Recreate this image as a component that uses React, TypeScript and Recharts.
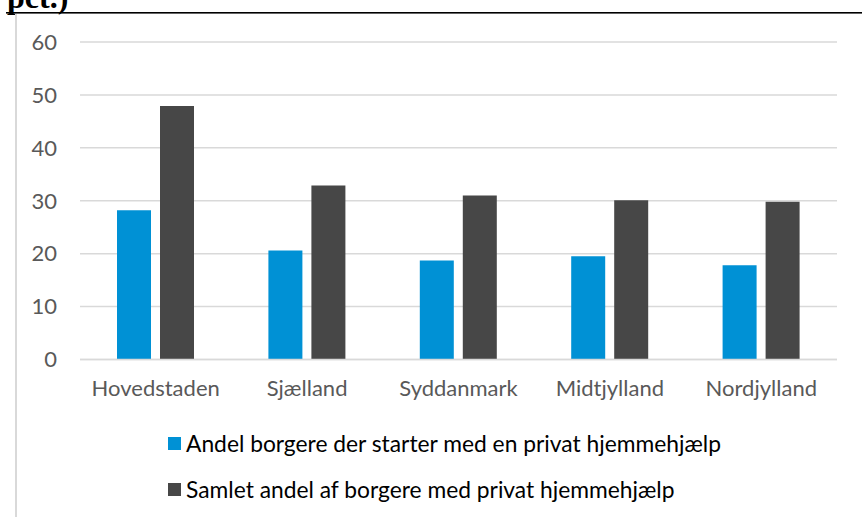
import { Bar, BarChart, CartesianGrid, XAxis, YAxis } from 'recharts';

const regions = ['Hovedstaden', 'Sjælland', 'Syddanmark', 'Midtjylland', 'Nordjylland'];
const startPrivate = [28.2, 20.6, 18.7, 19.5, 17.8];
const totalPrivate = [47.9, 32.9, 31.0, 30.1, 29.8];
const yTicks = [0, 10, 20, 30, 40, 50, 60];

const seriesNames = [
  'Andel borgere der starter med en privat hjemmehjælp',
  'Samlet andel af borgere med privat hjemmehjælp',
];
const seriesColors = ['#0091d5', '#474747'];

const data = regions.map((name, i) => ({
  name,
  start: startPrivate[i],
  total: totalPrivate[i],
}));

const tickStyle = { fill: '#595959', fontSize: 22, fontFamily: 'Lato, sans-serif' };

export default function App() {
  return (
    <div style={{ position: 'absolute', left: 0, top: 0, width: 862, height: 517, background: '#fff', overflow: 'hidden' }}>
      {/* heading cut off at the top of the crop */}
      <svg width={862} height={20} style={{ position: 'absolute', left: 0, top: 0 }}>
        <text x={7} y={8} fontFamily="'Liberation Serif', serif" fontWeight="bold" fontSize={32} fill="#000">
          pct.)
        </text>
        <rect x={6} y={12} width={856} height={1.6} fill="#000" />
      </svg>
      <div style={{ position: 'absolute', left: 15, top: 14, width: 2, height: 503, background: '#d9d9d9' }} />

      <div style={{ position: 'absolute', left: 0, top: 0 }}>
        <BarChart
          width={862}
          height={517}
          data={data}
          margin={{ top: 42, right: 25, left: 10, bottom: 127.5 }}
          barCategoryGap={37}
          barGap={9}
        >
          <CartesianGrid vertical={false} stroke="#d9d9d9" strokeWidth={1.5} />
          <XAxis
            dataKey="name"
            tick={tickStyle}
            axisLine={{ stroke: '#d9d9d9', strokeWidth: 1.5 }}
            tickLine={false}
            tickMargin={15}
            height={30}
            interval={0}
          />
          <YAxis
            domain={[0, 60]}
            ticks={yTicks}
            tick={tickStyle}
            axisLine={false}
            tickLine={false}
            tickMargin={17}
            width={70}
          />
          <Bar dataKey="start" name={seriesNames[0]} fill={seriesColors[0]} isAnimationActive={false} />
          <Bar dataKey="total" name={seriesNames[1]} fill={seriesColors[1]} isAnimationActive={false} />
        </BarChart>
      </div>

      <div style={{ position: 'absolute', left: 168, top: 420, fontFamily: 'Lato, sans-serif', fontSize: 22.8, color: '#000' }}>
        {seriesNames.map((s, i) => (
          <div key={s} style={{ display: 'flex', alignItems: 'center', height: 46 }}>
            <span style={{ width: 13, height: 13, background: seriesColors[i], marginRight: 5, display: 'inline-block' }} />
            <span>{s}</span>
          </div>
        ))}
      </div>
    </div>
  );
}
